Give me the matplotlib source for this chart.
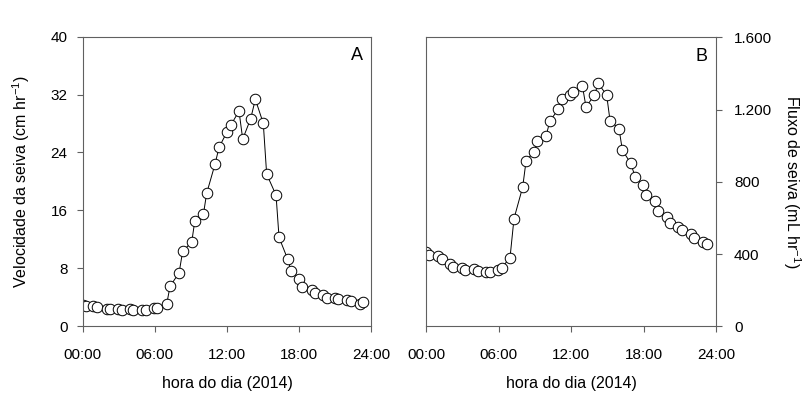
import matplotlib
matplotlib.use("Agg")
import matplotlib.pyplot as plt

plt.rcParams["font.family"] = ["Liberation Sans", "DejaVu Sans"]
plt.rcParams["mathtext.fontset"] = "custom"
plt.rcParams["mathtext.rm"] = "Liberation Sans"
plt.rcParams["mathtext.it"] = "Liberation Sans:italic"

# hours of the day for panel A
hora_a = [0.00, 0.28, 0.89, 1.22, 1.99, 2.27, 2.96, 3.24, 3.93, 4.21, 4.90, 5.26,
          5.93, 6.20, 6.98, 7.26, 8.01, 8.31, 9.06, 9.31, 10.03, 10.30, 11.00, 11.33,
          11.97, 12.30, 12.99, 13.30, 13.96, 14.35, 15.01, 15.29, 16.07, 16.32, 17.04, 17.31,
          18.01, 18.25, 19.03, 19.31, 20.00, 20.28, 20.97, 21.25, 22.00, 22.27, 23.05, 23.32]
# sap velocity (cm hr-1)
veloc = [2.90, 2.76, 2.81, 2.67, 2.40, 2.44, 2.40, 2.21, 2.35, 2.30, 2.30, 2.30,
         2.49, 2.58, 3.04, 5.53, 7.37, 10.37, 11.61, 14.47, 15.44, 18.34, 22.40, 24.70,
         26.77, 27.74, 29.72, 25.85, 28.66, 31.34, 28.02, 21.01, 18.11, 12.26, 9.26, 7.65,
         6.59, 5.44, 5.07, 4.61, 4.29, 3.96, 3.96, 3.78, 3.59, 3.46, 3.13, 3.32]

# hours of the day for panel B
hora_b = [0.00, 0.28, 1.02, 1.30, 1.99, 2.26, 2.95, 3.23, 3.97, 4.28, 4.97, 5.30,
          5.99, 6.26, 6.95, 7.28, 8.00, 8.28, 8.94, 9.21, 9.93, 10.26, 10.95, 11.23,
          11.92, 12.19, 12.94, 13.24, 13.93, 14.26, 14.95, 15.23, 15.97, 16.25, 16.94, 17.30,
          17.99, 18.21, 18.95, 19.23, 19.92, 20.19, 20.88, 21.21, 21.93, 22.21, 22.95, 23.23]
# sap flow (mL hr-1)
fluxo = [412, 392, 388, 370, 346, 329, 322, 311, 318, 305, 300, 303,
         314, 324, 379, 596, 771, 916, 967, 1027, 1054, 1138, 1202, 1258,
         1280, 1295, 1332, 1215, 1280, 1345, 1280, 1138, 1095, 975, 903, 829,
         782, 727, 694, 638, 607, 573, 551, 533, 509, 490, 466, 457]

xticks = [0, 6, 12, 18, 24]
xlabels = ["00:00", "06:00", "12:00", "18:00", "24:00"]
yticks_a = [0, 8, 16, 24, 32, 40]
yticks_b = [0, 400, 800, 1200, 1600]
ylabels_b = ["0", "400", "800", "1.200", "1.600"]

fig = plt.figure(figsize=(8.11, 3.94), dpi=100)
ax1 = fig.add_axes([0.102, 0.172, 0.356, 0.735])
ax2 = fig.add_axes([0.5253, 0.172, 0.3576, 0.733])

spine_col = "#606060"
panels = [(ax1, hora_a, veloc), (ax2, hora_b, fluxo)]
for ax, x, y in panels:
    ax.plot(x, y, "-", color="black", lw=0.7, marker="o", markersize=7.6,
            markerfacecolor="white", markeredgecolor="black", markeredgewidth=0.7)
    ax.set_xlim(0, 24)
    ax.set_xticks(xticks)
    ax.set_xticklabels(xlabels)
    ax.set_xlabel("hora do dia (2014)", fontsize=11.5, labelpad=10)
    for s in ax.spines.values():
        s.set_color(spine_col)
        s.set_linewidth(0.8)
    ax.tick_params(axis="x", direction="out", length=4, width=0.8, color=spine_col,
                   labelsize=11, pad=12)

ax1.set_ylim(0, 40)
ax1.set_yticks(yticks_a)
ax1.tick_params(axis="y", direction="out", length=4, width=0.8, color=spine_col,
                labelsize=11, pad=7)
ax1.set_ylabel("Velocidade da seiva (cm hr$^{-1}$)", fontsize=11.5, labelpad=13)
ax1.text(0.951, 0.935, "A", transform=ax1.transAxes, ha="center", va="center", fontsize=13)

ax2.set_ylim(0, 1600)
ax2.set_yticks(yticks_b)
ax2.set_yticklabels(ylabels_b)
ax2.yaxis.tick_right()
ax2.yaxis.set_label_position("right")
ax2.tick_params(axis="y", direction="out", length=4, width=0.8, color=spine_col,
                labelsize=11, pad=9)
ax2.set_ylabel("Fluxo de seiva (mL hr$^{-1}$)", fontsize=11.5, rotation=-90, labelpad=22)
ax2.text(0.951, 0.935, "B", transform=ax2.transAxes, ha="center", va="center", fontsize=13)

fig.savefig("out.png", dpi=100)
